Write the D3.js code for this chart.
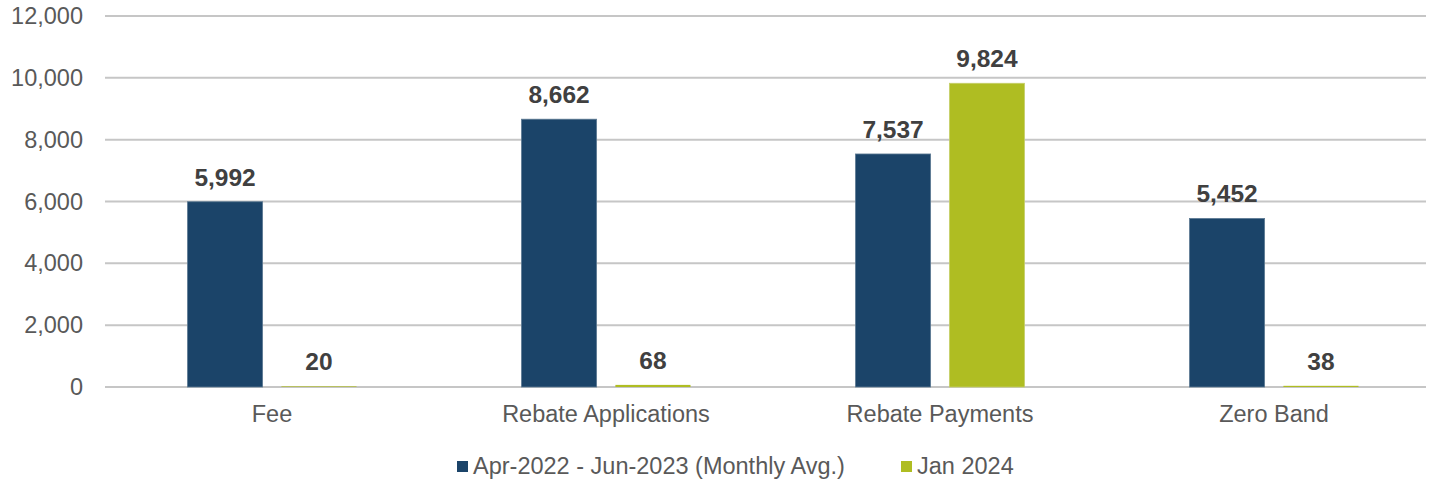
<!DOCTYPE html>
<html>
<head>
<meta charset="utf-8">
<script src="https://cdn.jsdelivr.net/npm/d3@7"></script>
<style>
  body { margin: 0; background: #fff; }
  svg text { font-family: "Liberation Sans", Arial, sans-serif; }
</style>
</head>
<body>
<div id="my_dataviz"></div>
<script>
var categories = ["Fee", "Rebate Applications", "Rebate Payments", "Zero Band"];
var seriesNames = ["Apr-2022 - Jun-2023 (Monthly Avg.)", "Jan 2024"];
var avgValues = [5992, 8662, 7537, 5452];
var jan2024Values = [20, 68, 9824, 38];
var yTicks = [0, 2000, 4000, 6000, 8000, 10000, 12000];
var colors = ["#1b4469", "#afbd22"];

var w = 1432, h = 483;
var margin = {top: 16, right: 6, bottom: 96, left: 105},
    width = w - margin.left - margin.right,
    height = h - margin.top - margin.bottom;

var data = categories.map(function(c, i) {
  return {cat: c, vals: [avgValues[i], jan2024Values[i]]};
});

var svg = d3.select("#my_dataviz").append("svg")
  .attr("width", w)
  .attr("height", h)
  .append("g")
  .attr("transform", "translate(" + margin.left + "," + margin.top + ")");

// scales (category slots run a little past the right edge, like the source)
var x = d3.scaleBand().domain(categories).range([0, 1336]).paddingInner(0.494).paddingOuter(0.247);
var x1 = d3.scaleBand().domain([0, 1]).range([0, x.bandwidth()]).paddingInner(0.2);
var y = d3.scaleLinear().domain([0, 12000]).range([height, 0]);

// gridlines
svg.append("g")
  .selectAll("line")
  .data(yTicks)
  .enter().append("line")
  .attr("x1", 0).attr("x2", width)
  .attr("y1", function(d) { return y(d); })
  .attr("y2", function(d) { return y(d); })
  .attr("stroke", "#c6c6c6")
  .attr("stroke-width", 2);

// y axis labels
var yAxis = svg.append("g")
  .call(d3.axisLeft(y).tickValues(yTicks).tickSize(0).tickPadding(22).tickFormat(d3.format(",")));
yAxis.select(".domain").remove();
yAxis.selectAll("text")
  .style("font-size", "23.5px")
  .attr("fill", "#595959");

// x axis labels
var xAxis = svg.append("g")
  .attr("transform", "translate(0," + height + ")")
  .call(d3.axisBottom(x).tickSize(0).tickPadding(18));
xAxis.select(".domain").remove();
xAxis.selectAll("text")
  .style("font-size", "23.5px")
  .attr("fill", "#595959");

// bars
var groups = svg.selectAll(".grp")
  .data(data)
  .enter().append("g")
  .attr("class", "grp")
  .attr("transform", function(d) { return "translate(" + x(d.cat) + ",0)"; });

groups.selectAll("rect")
  .data(function(d) { return d.vals.map(function(v, i) { return {i: i, v: v}; }); })
  .enter().append("rect")
  .attr("x", function(d) { return x1(d.i); })
  .attr("width", x1.bandwidth())
  .attr("y", function(d) { return y(d.v); })
  .attr("height", function(d) { return height - y(d.v); })
  .attr("fill", function(d) { return colors[d.i]; })
  .attr("stroke", function(d) { return d.i === 0 ? "#5d7a93" : "#c5cf6a"; })
  .attr("stroke-width", function(d) { return d.v < 100 ? 0 : 0.8; });

groups.selectAll(".lbl")
  .data(function(d) { return d.vals.map(function(v, i) { return {i: i, v: v}; }); })
  .enter().append("text")
  .attr("class", "lbl")
  .attr("x", function(d) { return x1(d.i) + x1.bandwidth() / 2; })
  .attr("y", function(d) { return y(d.v) - 16; })
  .attr("text-anchor", "middle")
  .style("font-size", "24.5px")
  .style("font-weight", "bold")
  .attr("fill", "#404040")
  .text(function(d) { return d3.format(",")(d.v); });

// legend
var legend = d3.select("svg").append("g").attr("transform", "translate(0,466)");
var legX = [457, 901];
seriesNames.forEach(function(name, i) {
  legend.append("rect")
    .attr("x", legX[i]).attr("y", -5)
    .attr("width", 11).attr("height", 11)
    .attr("fill", colors[i]);
  legend.append("text")
    .attr("x", legX[i] + 16).attr("y", 0)
    .attr("dy", "0.36em")
    .style("font-size", "23.5px")
    .attr("fill", "#595959")
    .text(name);
});
</script>
</body>
</html>
